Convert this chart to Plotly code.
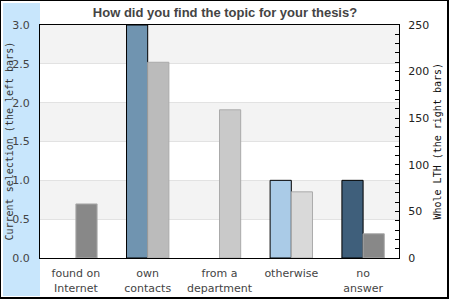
import plotly.graph_objects as go

categories = ["found on<br>Internet", "own<br>contacts", "from a<br>department", "otherwise", "no<br>answer"]
current_selection = [0, 3, 0, 1, 1]
whole_lth = [58, 210, 159, 71, 26]
left_colors = ["#7094b0", "#7094b0", "#7094b0", "#aacbe7", "#3f5f7b"]
right_colors = ["#888888", "#bbbbbb", "#c9c9c9", "#d9d9d9", "#888888"]
bands = [(2.5, 3.0), (1.5, 2.0), (0.5, 1.0)]
left_title = "Current selection (the left bars)"
right_title = "Whole LTH (the right bars)"

L, R, T, B = 40, 51, 25, 42
W, H = 450, 300
pw, ph = W - L - R, H - T - B

def px(x):
    return (x - L) / pw

def py(y):
    return (H - B - y) / ph

fig = go.Figure()
fig.add_trace(go.Bar(
    x=categories, y=current_selection, yaxis="y", offsetgroup="1",
    marker=dict(color=left_colors,
                line=dict(color="black", width=[1 if v else 0 for v in current_selection])),
    name="Current selection", showlegend=False,
))
fig.add_trace(go.Bar(
    x=categories, y=whole_lth, yaxis="y2", offsetgroup="2",
    marker=dict(color=right_colors, line=dict(color="#aaaaaa", width=1)),
    name="Whole LTH", showlegend=False,
))

shapes = []
shapes.append(dict(type="rect", xref="paper", yref="paper", layer="below",
                   x0=px(3), x1=px(40), y0=py(296), y1=py(3),
                   fillcolor="#c8e6fc", line=dict(width=0)))
for a, b in bands:
    shapes.append(dict(type="rect", xref="paper", yref="y", layer="below",
                       x0=0, x1=1, y0=a, y1=b, fillcolor="#f3f3f3", line=dict(width=0)))
shapes.append(dict(type="rect", xref="paper", yref="paper", layer="above",
                   x0=px(0), x1=px(448), y0=py(298), y1=py(0),
                   line=dict(color="black", width=2)))

annotations = [
    dict(text=left_title, textangle=-90, xref="paper", yref="paper",
         x=px(9), y=0.5, xanchor="center", yanchor="middle", showarrow=False,
         font=dict(family="DejaVu Sans Mono", size=10, color="#333333")),
    dict(text=right_title, textangle=-90, xref="paper", yref="paper",
         x=px(437), y=0.5, xanchor="center", yanchor="middle", showarrow=False,
         font=dict(family="DejaVu Sans Mono", size=10, color="#111111")),
]

fig.update_layout(
    width=W, height=H,
    margin=dict(l=L, r=R, t=T, b=B, pad=0, autoexpand=False),
    paper_bgcolor="white", plot_bgcolor="white",
    barmode="group", bargap=0.41, bargroupgap=0,
    shapes=shapes, annotations=annotations,
    title=dict(text="<b>How did you find the topic for your thesis?</b>",
               x=0.5, xanchor="center", y=1 - 12 / H, yanchor="middle",
               font=dict(family="Liberation Sans", size=13, color="#444444")),
    xaxis=dict(showline=True, linecolor="black", linewidth=1, mirror=True,
               showgrid=False, ticks="", ticklabelstandoff=5, automargin=False,
               tickfont=dict(family="DejaVu Sans", size=11, color="#444444")),
    yaxis=dict(range=[0, 3], dtick=0.5, tickformat=".1f", showline=True,
               linecolor="black", linewidth=1, showgrid=True, gridcolor="#e2e2e2",
               gridwidth=1, ticks="", ticklabelstandoff=7, zeroline=False,
               automargin=False,
               tickfont=dict(family="DejaVu Sans", size=11, color="#444444")),
    yaxis2=dict(range=[0, 250], dtick=50, overlaying="y", side="right",
                showline=True, linecolor="black", linewidth=1, showgrid=False,
                zeroline=False, ticks="inside", ticklen=4, tickcolor="black",
                ticklabelstandoff=6, automargin=False,
                minor=dict(dtick=10, ticks="inside", ticklen=4, tickcolor="black"),
                tickfont=dict(family="DejaVu Sans", size=11, color="#222222")),
)

fig.write_html("out.html")
